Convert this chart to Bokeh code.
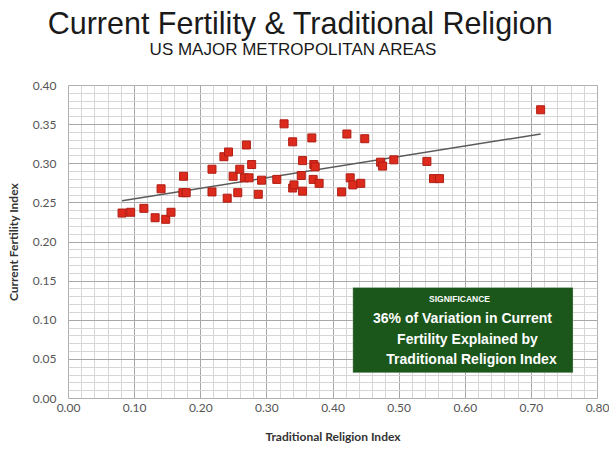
import numpy as np
from bokeh.plotting import figure
from bokeh.layouts import column
from bokeh.models import (Label, BoxAnnotation, SingleIntervalTicker, NumeralTickFormatter,
                          Range1d, ColumnDataSource)
from bokeh.embed import file_html
from bokeh.resources import INLINE

# ---- data ----
religion_index = [0.081, 0.094, 0.114, 0.131, 0.147, 0.155, 0.140, 0.174, 0.173, 0.178,
                  0.217, 0.217, 0.235, 0.242, 0.240, 0.249, 0.256, 0.259, 0.269, 0.266,
                  0.273, 0.277, 0.287, 0.292, 0.315, 0.326, 0.339, 0.339, 0.341, 0.354,
                  0.352, 0.354, 0.368, 0.371, 0.373, 0.370, 0.379, 0.413, 0.421, 0.426,
                  0.430, 0.442, 0.448, 0.472, 0.475, 0.492, 0.542, 0.552, 0.561, 0.714]
fertility_index = [0.237, 0.238, 0.243, 0.231, 0.229, 0.238, 0.268, 0.284, 0.263, 0.263,
                   0.293, 0.264, 0.309, 0.315, 0.256, 0.284, 0.263, 0.293, 0.324, 0.282,
                   0.282, 0.299, 0.261, 0.279, 0.280, 0.351, 0.328, 0.269, 0.273, 0.304,
                   0.285, 0.265, 0.333, 0.299, 0.296, 0.280, 0.275, 0.264, 0.338, 0.282,
                   0.273, 0.275, 0.332, 0.302, 0.297, 0.305, 0.303, 0.281, 0.281, 0.369]

title_text = "Current Fertility & Traditional Religion"
subtitle_text = "US MAJOR METROPOLITAN AREAS"
x_label = "Traditional Religion Index"
y_label = "Current Fertility Index"
box_lines = ["SIGNIFICANCE", "36% of Variation in Current",
             "Fertility Explained by", "Traditional Religion Index"]

# linear trend (least squares) over the data range
xs = np.array(religion_index)
ys = np.array(fertility_index)
slope, intercept = np.polyfit(xs, ys, 1)
trend_x = [float(xs.min()), float(xs.max())]
trend_y = [slope * v + intercept for v in trend_x]

# ---- header with the titles ----
W = 609
head = figure(width=W, height=70, output_backend="svg", toolbar_location=None,
              x_axis_type=None, y_axis_type=None, min_border=0,
              x_range=Range1d(0, 1), y_range=Range1d(0, 1))
head.frame_align = False
head.outline_line_color = None
head.grid.visible = False
head.background_fill_color = "white"
head.border_fill_color = "white"
head.add_layout(Label(x=300, y=48, x_units="screen", y_units="screen", text=title_text,
                      text_align="center", text_baseline="middle",
                      text_font="Liberation Sans", text_font_size="30.5px", text_color="#1a1a1a"))
head.add_layout(Label(x=293, y=21, x_units="screen", y_units="screen", text=subtitle_text,
                      text_align="center", text_baseline="middle",
                      text_font="Liberation Sans", text_font_size="17px", text_color="#1a1a1a"))

# ---- main chart ----
p = figure(width=W, height=380, output_backend="svg", toolbar_location=None,
           x_range=Range1d(0, 0.8), y_range=Range1d(0, 0.4),
           min_border_left=68, min_border_right=12, min_border_top=15, min_border_bottom=52)
p.frame_align = False
p.background_fill_color = "white"
p.border_fill_color = "white"
p.outline_line_color = "#b0b0b0"

p.xaxis.ticker = SingleIntervalTicker(interval=0.1, num_minor_ticks=5)
p.yaxis.ticker = SingleIntervalTicker(interval=0.05, num_minor_ticks=5)
for ax in (p.xaxis[0], p.yaxis[0]):
    ax.formatter = NumeralTickFormatter(format="0.00")
    ax.axis_line_color = None
    ax.major_tick_line_color = None
    ax.minor_tick_line_color = None
    ax.major_tick_out = 0
    ax.major_tick_in = 0
    ax.minor_tick_out = 0
    ax.minor_tick_in = 0
    ax.major_label_text_font = "Lato"
    ax.major_label_text_font_size = "12px"
    ax.major_label_text_color = "#555555"
    ax.axis_label_text_font = "Lato"
    ax.axis_label_text_font_style = "bold"
    ax.axis_label_text_font_size = "12px"
    ax.axis_label_text_color = "#333333"
p.xaxis.axis_label = x_label
p.yaxis.axis_label = y_label
p.xaxis.major_label_standoff = 5
p.yaxis.major_label_standoff = 12
p.xaxis.axis_label_standoff = 14
p.yaxis.axis_label_standoff = 9

for g in (p.xgrid[0], p.ygrid[0]):
    g.grid_line_color = "#a8a8a8"
    g.grid_line_width = 1
    g.minor_grid_line_color = "#d6d6d6"
    g.minor_grid_line_width = 1

# significance box
p.add_layout(BoxAnnotation(left=0.43, right=0.763, bottom=0.033, top=0.142,
                           fill_color="#1b561b", fill_alpha=1.0,
                           line_color="#e8f0e8", line_width=1))

p.line(trend_x, trend_y, line_color="#5a5a5a", line_width=1.5)
src = ColumnDataSource(dict(x=religion_index, y=fertility_index))
p.scatter("x", "y", source=src, marker="square", size=8,
          fill_color="#dc2a1c", line_color="#b01e14", line_width=1)

# box text (screen units relative to the frame's bottom-left corner)
box_ys = [100, 81, 60, 40]
box_sizes = ["8.5px", "14px", "14px", "14px"]
box_xs = [391, 394, 399, 403]
for t, yy, sz, xx in zip(box_lines, box_ys, box_sizes, box_xs):
    p.add_layout(Label(x=xx, y=yy, x_units="screen", y_units="screen", text=t,
                       text_align="center", text_baseline="middle",
                       text_font="Liberation Sans", text_font_style="bold",
                       text_font_size=sz, text_color="white"))

layout = column(head, p, spacing=0)
open("out.html", "w").write(file_html(layout, INLINE))
